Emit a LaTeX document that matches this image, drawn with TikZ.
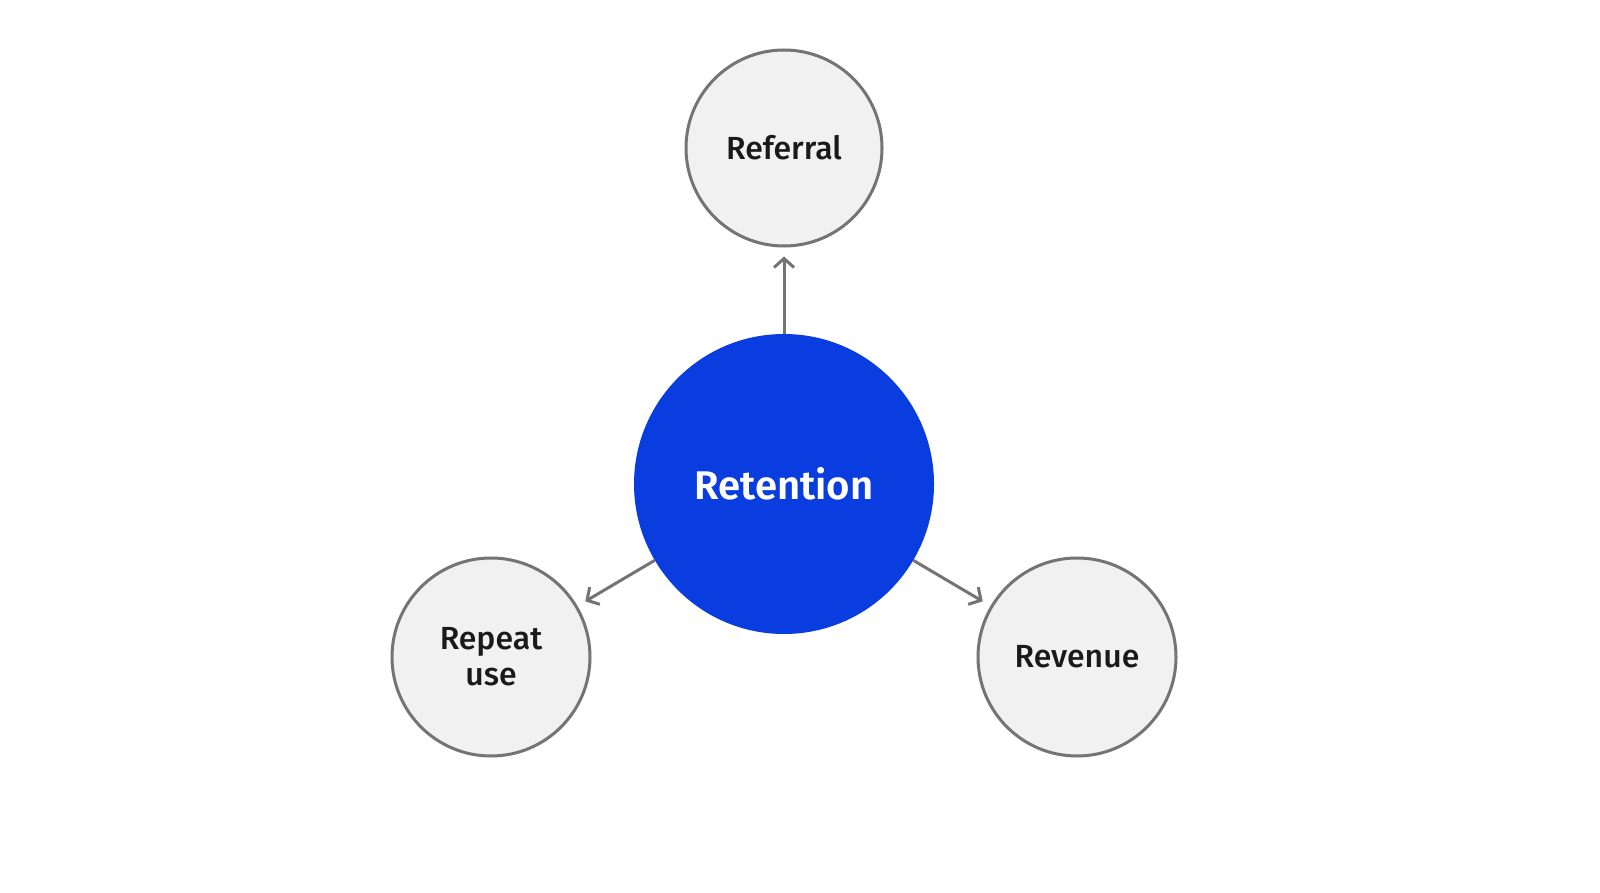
\documentclass[tikz,border=0pt]{standalone}
\usepackage{fontspec}
\setmainfont{Fira Sans}
\newfontfamily\medfont{Fira Sans Medium}
\newfontfamily\semifont{Fira Sans SemiBold}
\usetikzlibrary{arrows.meta}
\definecolor{bluec}{HTML}{0A3DDF}
\definecolor{edgec}{HTML}{747474}
\definecolor{fillc}{HTML}{F1F1F1}
\definecolor{txt}{HTML}{1A1A1A}
\begin{document}
\begin{tikzpicture}[x=1pt,y=-1pt,
  small/.style={circle,draw=edgec,line width=3pt,fill=fillc,inner sep=0pt,align=center,text=txt,font=\medfont\fontsize{32}{36}\selectfont},
  conn/.style={draw=edgec,line width=3pt,-{Straight Barb[length=9pt,width=20pt,line width=3pt]},shorten >=9pt}]
\useasboundingbox (0,0) rectangle (1600,893);
\fill[white] (0,0) rectangle (1600,893);
\node[circle,fill=bluec,minimum size=300pt,inner sep=0pt,text=white,font=\semifont\fontsize{40}{44}\selectfont] (ret) at (784,484) {Retention};
\node[small,minimum size=196pt] (ref) at (784,148) {Referral};
\node[small,minimum size=198pt] (rep) at (491,657) {Repeat\\use};
\node[small,minimum size=198pt] (rev) at (1077,657) {Revenue};
\draw[conn] (ret) -- (ref);
\draw[conn] (ret) -- (rep);
\draw[conn] (ret) -- (rev);
\end{tikzpicture}
\end{document}
